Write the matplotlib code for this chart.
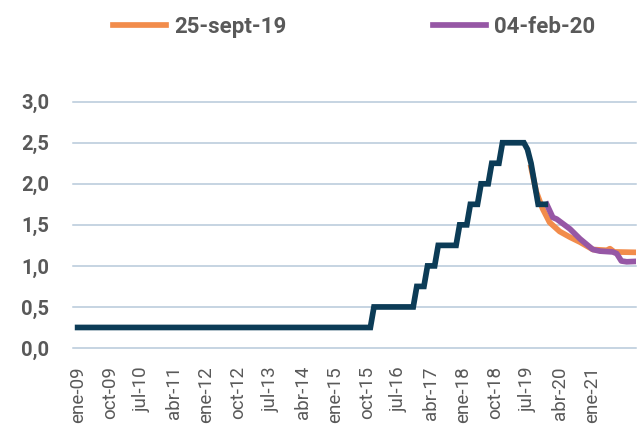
import numpy as np
import matplotlib
matplotlib.use("Agg")
import matplotlib.pyplot as plt

plt.rcParams['font.family'] = ['Roboto', 'DejaVu Sans']

# x = months since ene-09
tick_months = [0, 9, 18, 27, 36, 45, 54, 63, 72, 81, 90, 99, 108, 117, 126, 135, 144]
tick_labels = ['ene-09', 'oct-09', 'jul-10', 'abr-11', 'ene-12', 'oct-12', 'jul-13',
               'abr-14', 'ene-15', 'oct-15', 'jul-16', 'abr-17', 'ene-18', 'oct-18',
               'jul-19', 'abr-20', 'ene-21']

# policy rate (upper bound), monthly breakpoints
fed_x = [0, 82, 83, 94, 95, 97, 98, 100, 101, 106, 107, 109, 110, 112, 113, 115,
         116, 118, 119, 125, 126, 127, 128, 129, 131]
fed_y = [0.25, 0.25, 0.5, 0.5, 0.75, 0.75, 1.0, 1.0, 1.25, 1.25, 1.5, 1.5, 1.75, 1.75,
         2.0, 2.0, 2.25, 2.25, 2.5, 2.5, 2.42, 2.25, 2.0, 1.75, 1.75]

# market expectations 25-sept-19
sep19_x = [127, 128.5, 130.2, 132.2, 135.0, 137.9, 140.7, 144.3, 148.2, 149.1, 150.3, 156.4]
sep19_y = [2.2, 1.9, 1.7, 1.53, 1.42, 1.35, 1.29, 1.2, 1.19, 1.21, 1.17, 1.165]

# market expectations 04-feb-20
feb20_x = [131.4, 133.1, 134.2, 137.9, 140.7, 144.3, 146.3, 149.9, 151.0, 152.3, 153.8, 156.4]
feb20_y = [1.75, 1.59, 1.57, 1.45, 1.33, 1.2, 1.18, 1.17, 1.15, 1.06, 1.05, 1.055]

dark = '#0c3c57'
orange = '#f28c4b'
purple = '#9657a5'
grey = '#595959'

fig = plt.figure(figsize=(6.39, 4.41), dpi=100)
ax = fig.add_axes([73/639, 1-348/441, 563/639, (348-101.7)/441])

for v in np.arange(0, 3.01, 0.5):
    ax.axhline(v, color='#b7c9da', lw=1.1, zorder=0, clip_on=False)

ax.plot(sep19_x, sep19_y, color=orange, lw=4.1, label='25-sept-19', solid_joinstyle='round')
ax.plot(feb20_x, feb20_y, color=purple, lw=4.1, label='04-feb-20', solid_joinstyle='round')
ax.plot(fed_x, fed_y, color=dark, lw=4.1, solid_joinstyle='miter', solid_capstyle='projecting')

ax.set_xlim(-1.3, 156.4)
ax.set_ylim(0, 3)
ax.set_yticks(np.arange(0, 3.01, 0.5))
ax.set_yticklabels([f'{v:.1f}'.replace('.', ',') for v in np.arange(0, 3.01, 0.5)],
                   fontsize=14.5, fontweight='bold', color=grey)
ax.set_xticks(tick_months)
ax.set_xticklabels(tick_labels, rotation=90, fontsize=13.5, color=grey)
ax.tick_params(axis='both', length=0)
ax.tick_params(axis='y', pad=17)
ax.tick_params(axis='x', pad=13)
for s in ax.spines.values():
    s.set_visible(False)

h, l = ax.get_legend_handles_labels()
fig.legend(h, l, loc='center', bbox_to_anchor=(354/639, 1-27/441), ncol=2,
           frameon=False, prop={'size': 16, 'weight': 'bold'}, labelcolor=grey,
           handlelength=2.4, handletextpad=0.35, columnspacing=6.6, borderpad=0)

fig.savefig('out.png', dpi=100)
